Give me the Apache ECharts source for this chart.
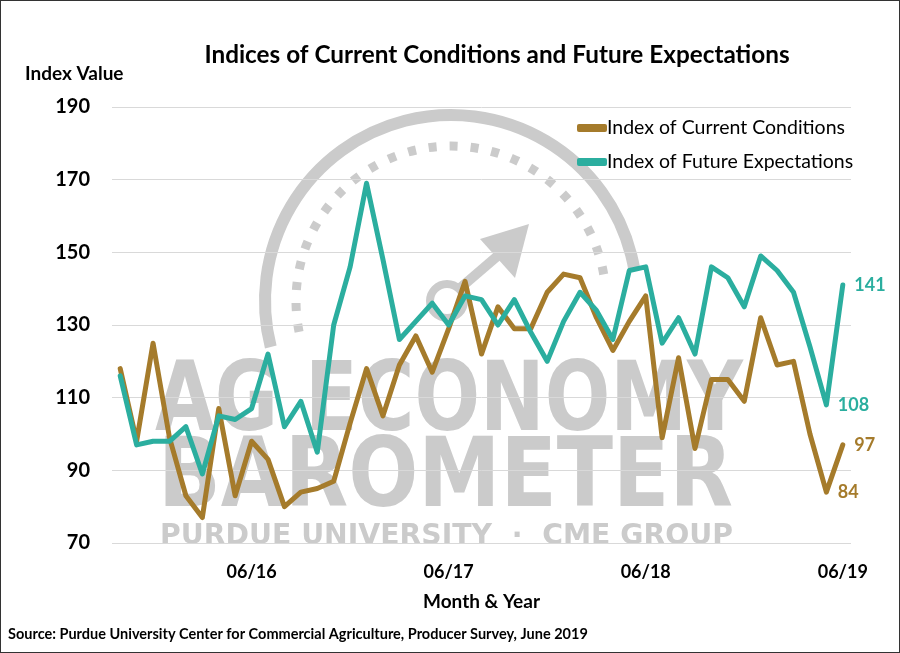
<!DOCTYPE html>
<html>
<head>
<meta charset="utf-8">
<script src="https://cdn.jsdelivr.net/npm/echarts@6/dist/echarts.min.js"></script>
<style>
  html, body { margin: 0; padding: 0; background: #fff; }
  #main { width: 900px; height: 653px; box-sizing: border-box; border: 1px solid #333; }
</style>
</head>
<body>
<div id="main"></div>
<script>
// months, Oct 2015 .. Jun 2019
var months = ['10/15','11/15','12/15','01/16','02/16','03/16','04/16','05/16','06/16','07/16','08/16','09/16',
  '10/16','11/16','12/16','01/17','02/17','03/17','04/17','05/17','06/17','07/17','08/17','09/17',
  '10/17','11/17','12/17','01/18','02/18','03/18','04/18','05/18','06/18','07/18','08/18','09/18',
  '10/18','11/18','12/18','01/19','02/19','03/19','04/19','05/19','06/19'];
var tickLabels = ['06/16', '06/17', '06/18', '06/19'];

var currentCond = [118, 98, 125, 99, 83, 77, 107, 83, 98, 93, 80, 84,
  85, 87, 103, 118, 105, 119, 127, 117, 129, 142, 122, 135,
  129, 129, 139, 144, 143, 132, 123, 131, 138, 99, 121, 96,
  115, 115, 109, 132, 119, 120, 100, 84, 97];
var futureExp = [116, 97, 98, 98, 102, 89, 105, 104, 107, 122, 102, 109,
  95, 130, 146, 169, 148, 126, 131, 136, 130, 138, 137, 130,
  137, 128, 120, 131, 139, 134, 126, 145, 146, 125, 132, 122,
  146, 143, 135, 149, 145, 139, 124, 108, 141];
// points that carry a value label
var labelIdx = [43, 44];

var brown = '#A57B2B';
var teal = '#2BAE9F';
var wm = '#cbcbcb';

// fit watermark words to the width they take in the logo
var ctx = document.createElement('canvas').getContext('2d');
function fitScale(text, font, w) {
  ctx.font = font;
  return w / ctx.measureText(text).width;
}
var fontBig = 'bold 96px "DejaVu Sans Condensed"';
var fontSmall = 'bold 29px "DejaVu Sans Condensed"';

function withLabels(vals, color) {
  return vals.map(function (v, i) {
    if (labelIdx.indexOf(i) < 0) return v;
    return {
      value: v,
      symbol: 'circle',
      symbolSize: 1,
      label: {
        show: true, position: 'right', distance: 11,
        color: color, fontFamily: 'Lato', fontWeight: 'bold', fontSize: 18
      }
    };
  });
}

var myChart = echarts.init(document.getElementById('main'));
myChart.setOption({
  animation: false,
  title: {
    text: 'Indices of Current Conditions and Future Expectations',
    left: 491, top: 37, textAlign: 'center',
    textStyle: { fontFamily: 'Lato', fontWeight: 'bold', fontSize: 24.3, color: '#000' }
  },
  // watermark logo
  graphic: [
    { type: 'arc', z: -10, shape: { cx: 450, cy: 300, r: 186, startAngle: Math.PI - 0.25, endAngle: 2 * Math.PI - 0.17 },
      style: { stroke: wm, lineWidth: 12, fill: null } },
    { type: 'arc', z: -10, shape: { cx: 450, cy: 300, r: 155, startAngle: Math.PI - 0.2, endAngle: 2 * Math.PI - 0.1 },
      style: { stroke: wm, lineWidth: 9, fill: null, lineDash: [8, 13] } },
    { type: 'circle', z: -10, shape: { cx: 446, cy: 300, r: 17 }, style: { stroke: wm, lineWidth: 8, fill: null } },
    { type: 'line', z: -10, shape: { x1: 458, y1: 288, x2: 500, y2: 252 }, style: { stroke: wm, lineWidth: 10 } },
    { type: 'polygon', z: -10, shape: { points: [[528, 223], [479, 238], [514, 277]] }, style: { fill: wm } },
    { type: 'text', z: -10, x: 154, y: 404, scaleX: fitScale('AG ECONOMY', fontBig, 588),
      style: { text: 'AG ECONOMY', fill: wm, font: fontBig, verticalAlign: 'middle' } },
    { type: 'text', z: -10, x: 157, y: 480, scaleX: fitScale('BAROMETER', fontBig, 575),
      style: { text: 'BAROMETER', fill: wm, font: fontBig, verticalAlign: 'middle' } },
    { type: 'text', z: -10, x: 159, y: 535, scaleX: fitScale('PURDUE UNIVERSITY  ·  CME GROUP', fontSmall, 573),
      style: { text: 'PURDUE UNIVERSITY  ·  CME GROUP', fill: wm, font: fontSmall, verticalAlign: 'middle' } },
    { type: 'text', left: 7, top: 626,
      style: { text: 'Source: Purdue University Center for Commercial Agriculture, Producer Survey, June 2019',
        fill: '#000', font: 'bold 14.5px Lato' } }
  ],
  legend: {
    orient: 'vertical', left: 571, top: 112, itemGap: 14,
    itemWidth: 30, itemHeight: 8, icon: 'roundRect',
    textStyle: { fontFamily: 'Lato', fontSize: 19.5, color: '#000', padding: [0, 0, 0, -5] },
    data: ['Index of Current Conditions', 'Index of Future Expectations']
  },
  grid: { left: 111, right: 48, top: 106, bottom: 109 },
  xAxis: {
    type: 'category', boundaryGap: true, data: months,
    axisLine: { show: false }, axisTick: { show: false },
    axisLabel: {
      interval: 0, margin: 20, color: '#000',
      fontFamily: 'Lato', fontWeight: 'bold', fontSize: 18,
      formatter: function (v) { return tickLabels.indexOf(v) >= 0 ? v : ''; }
    },
    name: 'Month & Year', nameLocation: 'middle', nameGap: 49,
    nameTextStyle: { fontFamily: 'Lato', fontWeight: 'bold', fontSize: 19, color: '#000' }
  },
  yAxis: {
    type: 'value', min: 70, max: 190, interval: 20,
    axisLine: { show: false }, axisTick: { show: false },
    splitLine: { lineStyle: { color: '#d9d9d9', width: 1 } },
    axisLabel: { margin: 22, color: '#000', fontFamily: 'Lato', fontWeight: 'bold', fontSize: 20 },
    name: 'Index Value', nameLocation: 'end', nameGap: 24,
    nameTextStyle: { align: 'left', padding: [0, 0, 0, -87], fontFamily: 'Lato', fontWeight: 'bold', fontSize: 19, color: '#000' }
  },
  series: [
    {
      name: 'Index of Current Conditions', type: 'line', symbol: 'none',
      color: brown,
      lineStyle: { width: 5, color: brown, cap: 'round', join: 'round' },
      data: withLabels(currentCond, brown)
    },
    {
      name: 'Index of Future Expectations', type: 'line', symbol: 'none',
      color: teal,
      lineStyle: { width: 5, color: teal, cap: 'round', join: 'round' },
      data: withLabels(futureExp, teal)
    }
  ]
});
</script>
</body>
</html>
